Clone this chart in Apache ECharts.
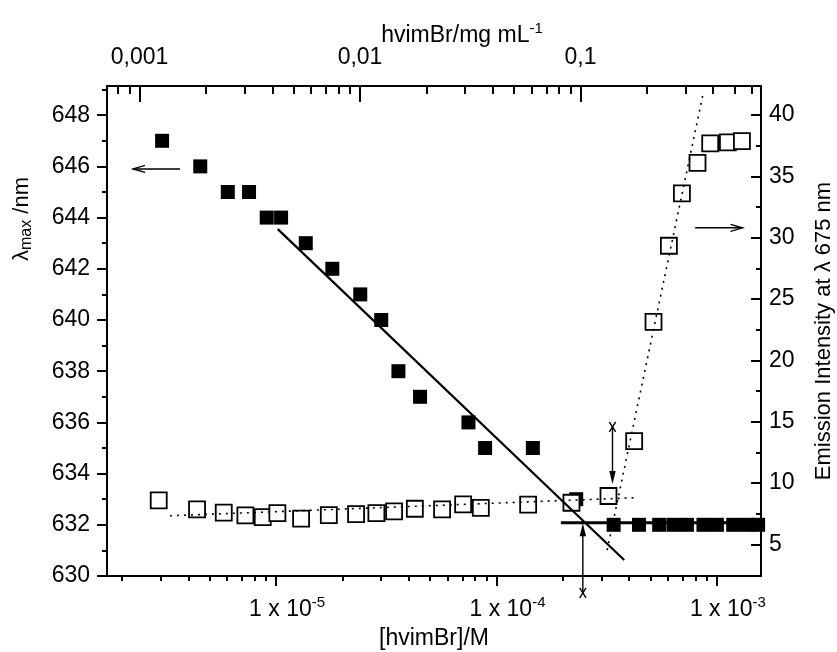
<!DOCTYPE html>
<html><head><meta charset="utf-8">
<script src="https://cdn.jsdelivr.net/npm/echarts@6/dist/echarts.min.js"></script>
<style>html,body{margin:0;padding:0;background:#fff}#c{width:837px;height:652px}</style>
</head><body><div id="c"></div>
<script>
// ---- data (concentration in M) ----
// filled squares: lambda max (nm), left axis
const lambdaConc = [3.04e-6, 4.53e-6, 6.04e-6, 7.54e-6, 9.07e-6, 1.054e-5, 1.364e-5, 1.80e-5, 2.41e-5, 3.00e-5,
  3.59e-5, 4.50e-5, 7.46e-5, 8.88e-5, 1.462e-4, 2.30e-4, 3.40e-4, 4.43e-4, 5.47e-4, 6.35e-4,
  7.31e-4, 8.69e-4, 1.00e-3, 1.186e-3, 1.368e-3, 1.538e-3];
const lambdaMax = [647, 646, 645, 645, 644, 644, 643, 642, 641, 640,
  638, 637, 636, 635, 635, 633, 632, 632, 632, 632,
  632, 632, 632, 632, 632, 632];
// open squares: emission intensity at 675 nm, right axis
const emisConc = [2.935e-6, 4.38e-6, 5.79e-6, 7.26e-6, 8.70e-6, 1.014e-5, 1.299e-5, 1.735e-5, 2.307e-5, 2.852e-5,
  3.431e-5, 4.262e-5, 5.666e-5, 7.059e-5, 8.49e-5, 1.392e-4, 2.188e-4, 3.222e-4, 4.214e-4, 5.157e-4,
  6.055e-4, 6.937e-4, 8.166e-4, 9.324e-4, 1.122e-3, 1.299e-3];
const emisInt = [8.59, 7.85, 7.58, 7.36, 7.22, 7.55, 7.09, 7.39, 7.47, 7.55,
  7.69, 7.90, 7.85, 8.26, 7.98, 8.23, 8.39, 8.94, 13.42, 23.14,
  29.34, 33.60, 36.10, 37.68, 37.76, 37.87];
// fit / guide lines
const fitConc = [1.018e-5, 3.796e-4];       const fitLambda = [643.55, 630.625];
const plateauConc = [1.959e-4, 1.825e-3];   const plateauLambda = [632.08, 632.08];
const baseDotConc = [3.30e-6, 4.26e-4];     const baseDotInt = [7.33, 8.80];
const riseDotConc = [3.178e-4, 8.67e-4];    const riseDotInt = [4.535, 41.78];
// arrows: [x1, y1, x2, y2, head(0 open,1 filled), tail(0 none,1 cross)]
const arrowsLeft = [[3.666e-6, 645.9, 2.244e-6, 645.9, 0, 0], [2.465e-4, 629.34, 2.465e-4, 632.06, 1, 1]];
const arrowsRight = [[7.97e-4, 30.8, 1.307e-3, 30.8, 0, 0], [3.36e-4, 14.58, 3.36e-4, 9.91, 1, 1]];
// axes
const xRangeM = [1.71e-6, 1.585e-3];
const molarMass = 416; // g/mol, converts M -> mg/mL
const bottomTickValues = [1e-5, 1e-4, 1e-3];
const topTickValues = [0.001, 0.01, 0.1];
const topTickLabels = ['0,001', '0,01', '0,1'];
const leftRange = [630, 649.14];
const leftTicks = [630, 632, 634, 636, 638, 640, 642, 644, 646, 648];
const leftMinor = [631, 633, 635, 637, 639, 641, 643, 645, 647, 649];
const rightRange = [2.42, 42.36];
const rightTicks = [5, 10, 15, 20, 25, 30, 35, 40];
const rightMinor = [7.5, 12.5, 17.5, 22.5, 27.5, 32.5, 37.5];

const FONT = 'Liberation Sans, Arial, sans-serif';
const FS = 23;
const lg = Math.log10;
const off = lg(molarMass);
const xMin = lg(xRangeM[0]), xMax = lg(xRangeM[1]);
function minorLogs(lo, hi) {
  const out = [];
  for (let n = -8; n <= 2; n++) for (let k = 2; k <= 9; k++) {
    const v = lg(k) + n; if (v > lo && v < hi) out.push(v);
  }
  return out;
}
const zip = (xs, ys) => xs.map((x, i) => [lg(x), ys[i]]);
const txt = { color: '#000', fontFamily: FONT };
const line2 = { show: true, onZero: false, lineStyle: { color: '#000', width: 2 } };
const noLine = { show: false, onZero: false };
const tickStyle = { color: '#000', width: 2 };
const supStyle = { fontSize: 15, padding: [0, 0, 14, 0], ...txt };

function renderArrow(params, api) {
  const p1 = api.coord([api.value(0), api.value(1)]);
  const p2 = api.coord([api.value(2), api.value(3)]);
  const head = api.value(4), tail = api.value(5);
  const dx = p2[0] - p1[0], dy = p2[1] - p1[1];
  const len = Math.hypot(dx, dy), ux = dx / len, uy = dy / len, nx = -uy, ny = ux;
  const st = { stroke: '#000', lineWidth: 1.4, fill: null };
  const ch = [{ type: 'line', shape: { x1: p1[0], y1: p1[1], x2: p2[0] - (head ? ux * 6 : 0), y2: p2[1] - (head ? uy * 6 : 0) }, style: st }];
  if (head === 0) {
    const L = 12, W = 3.5;
    ch.push({ type: 'polyline', shape: { points: [[p2[0] - ux * L + nx * W, p2[1] - uy * L + ny * W], [p2[0], p2[1]], [p2[0] - ux * L - nx * W, p2[1] - uy * L - ny * W]] }, style: st });
  } else {
    const L = 13, W = 3.2;
    ch.push({ type: 'polygon', shape: { points: [[p2[0] - ux * L + nx * W, p2[1] - uy * L + ny * W], [p2[0], p2[1]], [p2[0] - ux * L - nx * W, p2[1] - uy * L - ny * W]] }, style: { fill: '#000' } });
  }
  if (tail === 1) {
    const a = 3.2, b = 5;
    ch.push({ type: 'line', shape: { x1: p1[0] - nx * a - ux * b, y1: p1[1] - ny * a - uy * b, x2: p1[0] + nx * a + ux * b, y2: p1[1] + ny * a + uy * b }, style: st });
    ch.push({ type: 'line', shape: { x1: p1[0] + nx * a - ux * b, y1: p1[1] + ny * a - uy * b, x2: p1[0] - nx * a + ux * b, y2: p1[1] - ny * a + uy * b }, style: st });
  }
  return { type: 'group', children: ch };
}

const chart = echarts.init(document.getElementById('c'));
chart.setOption({
  animation: false,
  backgroundColor: '#fff',
  grid: { left: 107, right: 76, top: 86, bottom: 76, containLabel: false, outerBoundsMode: 'none' },
  xAxis: [
    { type: 'value', position: 'bottom', min: xMin, max: xMax, axisLine: line2, splitLine: { show: false },
      axisTick: { show: true, inside: false, length: 10, customValues: bottomTickValues.map(lg), lineStyle: tickStyle },
      axisLabel: { show: true, customValues: bottomTickValues.map(lg), margin: 19, fontSize: FS, ...txt,
        padding: [0, 0, 0, 22],
        formatter: v => '1 x 10{sup|' + Math.round(v) + '}',
        rich: { sup: supStyle } },
      name: '[hvimBr]/M', nameLocation: 'middle', nameGap: 51, nameMoveOverlap: false, nameTextStyle: { fontSize: FS, ...txt } },
    { type: 'value', position: 'bottom', min: xMin, max: xMax, axisLine: noLine, splitLine: { show: false },
      axisTick: { show: true, inside: false, length: 5, customValues: minorLogs(xMin, xMax), lineStyle: tickStyle },
      axisLabel: { show: false } },
    { type: 'value', position: 'top', min: xMin + off, max: xMax + off, axisLine: line2, splitLine: { show: false },
      axisTick: { show: true, inside: true, length: 16, customValues: topTickValues.map(lg), lineStyle: tickStyle },
      axisLabel: { show: true, customValues: topTickValues.map(lg), margin: 17, fontSize: FS, ...txt,
        formatter: v => topTickLabels[topTickValues.findIndex(t => Math.abs(lg(t) - v) < 1e-6)] },
      name: 'hvimBr/mg mL{sup|-1}', nameLocation: 'middle', nameGap: 36, nameMoveOverlap: false,
      nameTextStyle: { fontSize: FS, ...txt, padding: [0, 0, 0, 56], rich: { sup: supStyle } } },
    { type: 'value', position: 'top', min: xMin + off, max: xMax + off, axisLine: noLine, splitLine: { show: false },
      axisTick: { show: true, inside: true, length: 8, customValues: minorLogs(xMin + off, xMax + off), lineStyle: tickStyle },
      axisLabel: { show: false } }
  ],
  yAxis: [
    { type: 'value', position: 'left', min: leftRange[0], max: leftRange[1], axisLine: line2, splitLine: { show: false },
      axisTick: { show: true, inside: false, length: 10, customValues: leftTicks, lineStyle: tickStyle },
      axisLabel: { show: true, customValues: leftTicks, margin: 17, fontSize: FS, ...txt },
      name: 'λ{sub|max} /nm', nameLocation: 'middle', nameRotate: 90, nameGap: 72, nameMoveOverlap: false,
      nameTextStyle: { fontSize: 22, ...txt, padding: [0, 0, 0, 224], rich: { sub: { fontSize: 16, padding: [10, 0, 0, 0], ...txt } } } },
    { type: 'value', position: 'left', min: leftRange[0], max: leftRange[1], axisLine: noLine, splitLine: { show: false },
      axisTick: { show: true, inside: false, length: 5, customValues: leftMinor, lineStyle: tickStyle },
      axisLabel: { show: false } },
    { type: 'value', position: 'right', min: rightRange[0], max: rightRange[1], axisLine: line2, splitLine: { show: false },
      axisTick: { show: true, inside: true, length: 10, customValues: rightTicks, lineStyle: tickStyle },
      axisLabel: { show: true, customValues: rightTicks, margin: 8, fontSize: FS, ...txt },
      name: 'Emission Intensity at λ 675 nm', nameLocation: 'middle', nameRotate: 90, nameGap: 52, nameMoveOverlap: false,
      nameTextStyle: { fontSize: 22, ...txt } },
    { type: 'value', position: 'right', min: rightRange[0], max: rightRange[1], axisLine: noLine, splitLine: { show: false },
      axisTick: { show: true, inside: true, length: 5, customValues: rightMinor, lineStyle: tickStyle },
      axisLabel: { show: false } }
  ],
  series: [
    { type: 'scatter', name: 'lambda', xAxisIndex: 0, yAxisIndex: 0, symbol: 'rect', symbolSize: 14, clip: false,
      itemStyle: { color: '#000', opacity: 1 }, data: zip(lambdaConc, lambdaMax), z: 2 },
    { type: 'scatter', name: 'emission', xAxisIndex: 0, yAxisIndex: 2, symbol: 'rect', symbolSize: 16, clip: false,
      itemStyle: { color: '#fff', borderColor: '#000', borderWidth: 1.8, opacity: 1 }, data: zip(emisConc, emisInt), z: 3 },
    { type: 'line', xAxisIndex: 0, yAxisIndex: 0, showSymbol: false, symbol: 'none', clip: false,
      lineStyle: { color: '#000', width: 2.2 }, data: zip(fitConc, fitLambda), z: 4 },
    { type: 'line', xAxisIndex: 0, yAxisIndex: 0, showSymbol: false, symbol: 'none', clip: false,
      lineStyle: { color: '#000', width: 2.8 }, data: zip(plateauConc, plateauLambda), z: 4 },
    { type: 'line', xAxisIndex: 0, yAxisIndex: 2, showSymbol: false, symbol: 'none', clip: false,
      lineStyle: { color: '#000', width: 1.6, type: [2, 5] }, data: zip(baseDotConc, baseDotInt), z: 4 },
    { type: 'line', xAxisIndex: 0, yAxisIndex: 2, showSymbol: false, symbol: 'none', clip: false,
      lineStyle: { color: '#000', width: 1.6, type: [2, 5] }, data: zip(riseDotConc, riseDotInt), z: 4 },
    { type: 'custom', xAxisIndex: 0, yAxisIndex: 0, clip: false, renderItem: renderArrow, z: 5,
      encode: { x: [0, 2], y: [1, 3] },
      data: arrowsLeft.map(a => [lg(a[0]), a[1], lg(a[2]), a[3], a[4], a[5]]) },
    { type: 'custom', xAxisIndex: 0, yAxisIndex: 2, clip: false, renderItem: renderArrow, z: 5,
      encode: { x: [0, 2], y: [1, 3] },
      data: arrowsRight.map(a => [lg(a[0]), a[1], lg(a[2]), a[3], a[4], a[5]]) }
  ]
});
</script></body></html>
